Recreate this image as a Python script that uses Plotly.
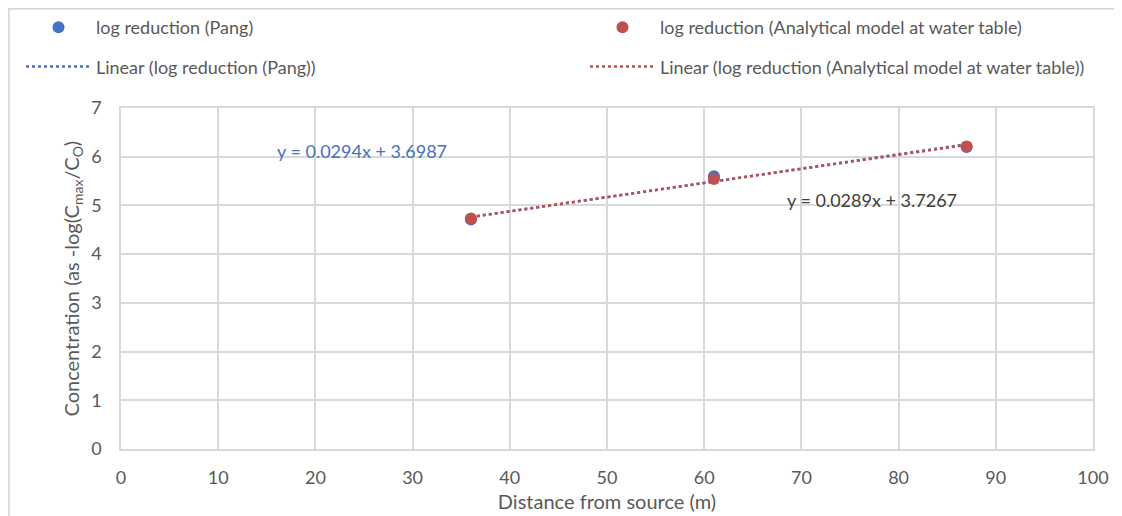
import plotly.graph_objects as go

distance = [36, 61, 87]
pang = [4.71, 5.60, 6.20]
analytical = [4.73, 5.54, 6.21]
pang_fit = (0.0294, 3.6987)
anal_fit = (0.0289, 3.7267)
x_ticks = [0, 10, 20, 30, 40, 50, 60, 70, 80, 90, 100]
y_ticks = [0, 1, 2, 3, 4, 5, 6, 7]

BLUE = "#4472C4"
RED = "#C0504D"
FONT = "Lato, Noto Sans, sans-serif"

W, H = 1122, 516
# page is drawn with an ~8px body offset; margins compensate for it
L, R, T, B = 113, 37, 100, 75
PW, PH = W - L - R, H - T - B

fit_x = [min(distance), max(distance)]

fig = go.Figure()
fig.add_trace(go.Scatter(x=fit_x, y=[pang_fit[0] * v + pang_fit[1] for v in fit_x], mode="lines",
                         name="Linear (log reduction (Pang))", legend="legend", legendrank=2,
                         legendgroup="g2",
                         line=dict(color=BLUE, width=2.5, dash="dot")))
fig.add_trace(go.Scatter(x=fit_x, y=[anal_fit[0] * v + anal_fit[1] for v in fit_x], mode="lines",
                         name="Linear (log reduction (Analytical model at water table))",
                         legend="legend2", legendrank=2, legendgroup="g4",
                         line=dict(color=RED, width=2.5, dash="dot")))
fig.add_trace(go.Scatter(x=distance, y=pang, mode="markers", name="log reduction (Pang)",
                         legend="legend", legendrank=1, legendgroup="g1",
                         marker=dict(color=BLUE, size=12)))
fig.add_trace(go.Scatter(x=distance, y=analytical, mode="markers",
                         name="log reduction (Analytical model at water table)",
                         legend="legend2", legendrank=1, legendgroup="g3",
                         marker=dict(color=RED, size=12)))

fig.add_annotation(x=24.8, y=6.12, text="y = 0.0294x + 3.6987", showarrow=False,
                   font=dict(color=BLUE, size=18, family=FONT))
fig.add_annotation(x=77.3, y=5.11, text="y = 0.0289x + 3.7267", showarrow=False,
                   font=dict(color="#404040", size=18, family=FONT))
# y-axis title
fig.add_annotation(xref="paper", yref="paper", x=(64 - L) / PW, y=0.5,
                   text="Concentration (as -log(C<sub>max</sub>/C<sub>O</sub>)",
                   textangle=-90, showarrow=False, xanchor="center", yanchor="middle",
                   font=dict(size=20, color="#595959", family=FONT))

leg_common = dict(orientation="v", xref="container", yref="container",
                  xanchor="left", yanchor="top", itemwidth=65, tracegroupgap=13,
                  font=dict(size=18, color="#595959", family=FONT),
                  bgcolor="rgba(0,0,0,0)", borderwidth=0)

fig.update_layout(
    width=W, height=H,
    margin=dict(l=L, r=R, t=T, b=B, autoexpand=False),
    paper_bgcolor="white", plot_bgcolor="white",
    font=dict(family=FONT, color="#595959", size=18),
    showlegend=True,
    legend=dict(x=13 / W, y=1 - 1 / H, **leg_common),
    legend2=dict(x=577 / W, y=1 - 1 / H, **leg_common),
    xaxis=dict(range=[0, 100], tickvals=x_ticks, showgrid=True, gridcolor="#D9D9D9", gridwidth=1.5,
               zeroline=False, showline=True, linecolor="#D9D9D9", linewidth=1.5, mirror=True,
               ticks="", automargin=True, ticklabelstandoff=12,
               title=dict(text="Distance from source (m)", font=dict(size=20, color="#595959"),
                          standoff=8),
               tickfont=dict(size=18)),
    yaxis=dict(range=[0, 7], tickvals=y_ticks, showgrid=True, gridcolor="#D9D9D9", gridwidth=1.5,
               zeroline=False, showline=True, linecolor="#D9D9D9", linewidth=1.5, mirror=True,
               ticks="", automargin=True, ticklabelstandoff=14,
               tickfont=dict(size=18)),
)

# outer chart border (top and left edges visible)
bx = (0 - L) / PW
by = 1 + (T - 0.5) / PH
fig.add_shape(type="line", xref="paper", yref="paper",
              x0=bx, x1=1 + R / PW, y0=by, y1=by,
              line=dict(color="#D9D9D9", width=2.5))
fig.add_shape(type="line", xref="paper", yref="paper",
              x0=bx + 0.5 / PW, x1=bx + 0.5 / PW, y0=by, y1=-B / PH,
              line=dict(color="#D9D9D9", width=2.5))

fig.write_html("out.html")
